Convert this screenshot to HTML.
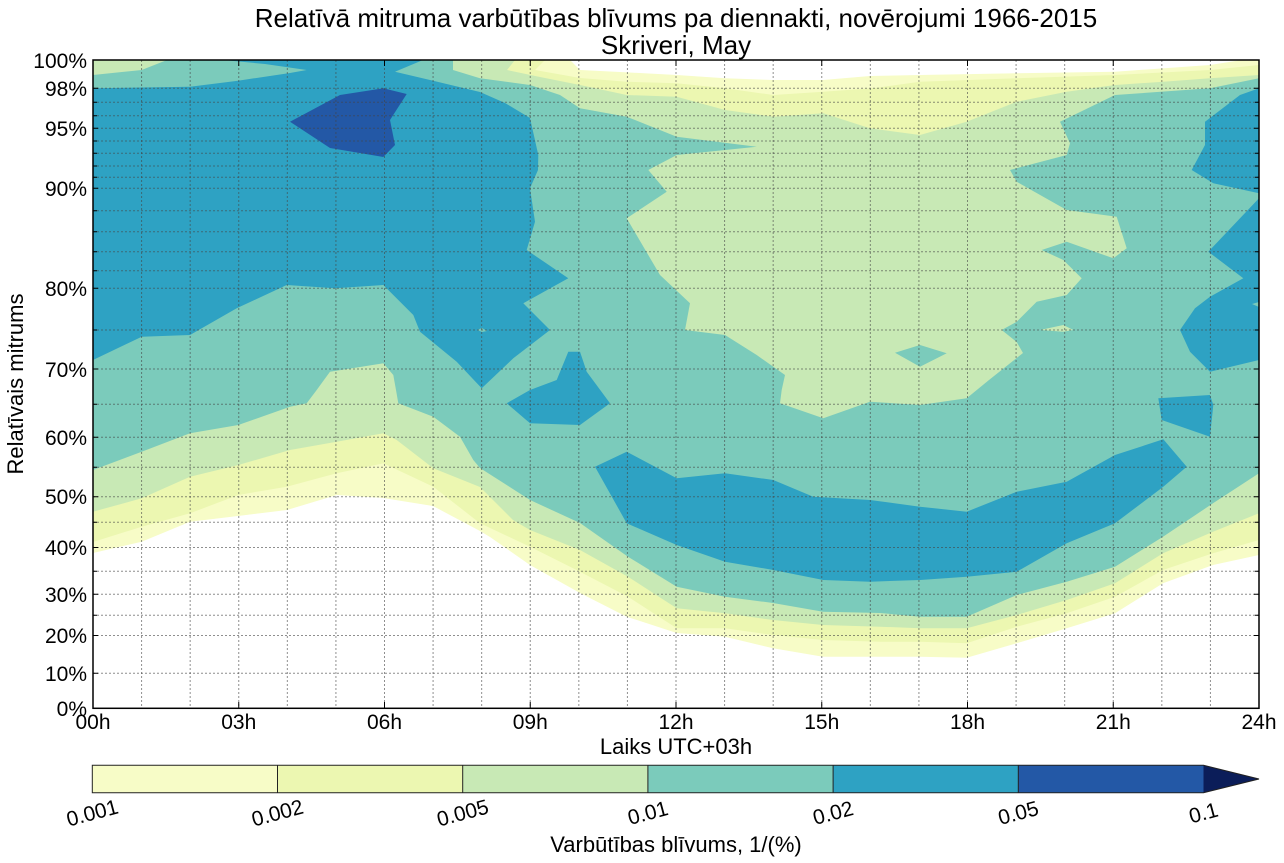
<!DOCTYPE html>
<html>
<head>
<meta charset="utf-8">
<style>
html,body{margin:0;padding:0;background:#fff;}
svg{display:block;}
text{font-family:"Liberation Sans", Arial, sans-serif;fill:#000;}
</style>
</head>
<body>
<svg width="1284" height="863" viewBox="0 0 1284 863" xmlns="http://www.w3.org/2000/svg">
<defs>
<clipPath id="pc"><rect x="93" y="60" width="1166" height="648.5"/></clipPath>
</defs>
<rect x="0" y="0" width="1284" height="863" fill="#fff"/>

<!-- Title -->
<text x="676" y="27" font-size="26" text-anchor="middle">Relatīvā mitruma varbūtības blīvums pa diennakti, novērojumi 1966-2015</text>
<text x="676" y="54" font-size="26" text-anchor="middle">Skriveri, May</text>

<g clip-path="url(#pc)">
<rect x="93" y="60" width="1166" height="649" fill="#fff"/>
<!-- L1 -->
<polygon fill="#f7fcc7" points="93,553 141.7,541.7 190,521.7 238,516 287,510 336.7,495 383,498 433,506 480,531 490,537 530,565 580,593 626.7,616.7 676.7,633 725,636.7 773,648.3 823,656.7 880,656.7 920,656.7 966.7,657.7 1016.7,643.3 1066.7,628.3 1115,613.3 1163,583.3 1213,565 1259,555 1259,60 93,60"/>
<!-- L2 -->
<polygon fill="#ecf7b1" points="93,542 141.7,526.7 190,513.3 238.3,495 286.7,486.7 336.7,473.3 383.3,463.3 433.3,486.7 480,523.3 530,546.7 580,571.7 628,596.7 676.7,628.3 725,628.3 773,635 823,640 880,641.7 920,641.7 966.7,643.3 1016.7,626.7 1066.7,613.3 1115,596.7 1163,570 1213,553.3 1259,540 1259,60 93,60"/>
<!-- L3 -->
<polygon fill="#c8e9b5" points="93,511.7 141.7,498.3 190,476.7 238.3,465 290,450 336.7,441.7 383.3,433.3 396.7,440 433.3,468.3 480,487 513,520 530,530 580,550 628,576.7 676.7,608.3 725,613.3 773,620 823,625 880,626.7 920,628.3 966.7,628.3 1016.7,615 1066.7,600 1115,583.3 1163,553.3 1213,531.7 1259,513.3 1259,60 93,60"/>
<!-- top yellow / lightest / white -->
<polygon fill="#ecf7b1" points="515,60 507,70 540,77 580,85 626.7,95 676.7,96.7 725,110 773.3,116.7 823.3,113.3 870,128.3 920,135 966.7,121.7 1016.7,101.7 1066.7,91.7 1115,85 1163.3,81.7 1210,78.3 1259,75 1259,60"/>
<polygon fill="#f7fcc7" points="545,60 535,70 580,78 626.7,81.7 676.7,83.3 725,88.3 773.3,95 823.3,91.7 875,88 920,81.7 1016.7,78.3 1115,75 1210,70 1259,65 1259,60"/>
<polygon fill="#fff" points="570,60 1242,60 1210,65 1115,71.7 1016.7,73.3 920,75 870,76 823,80 773,80 725,78.3 676.7,75 620,72 580,70"/>
<!-- L4 -->
<polygon fill="#7bcbbb" points="93,470 141.7,451.7 190,433.3 238.3,425 290,406.7 306.7,403.3 316.7,390 330,371.7 383.3,363.3 393.3,375 396,390 398.3,403.3 433.3,416.7 460,436.7 473.3,460 480,468 530,500 580,523 628,556.7 676.7,586.7 725,596.7 773,603 823,611.7 880,613 920,616.7 966.7,616.7 1016.7,595 1066.7,581.7 1115,566.7 1163,536.7 1213,503.3 1259,473.3 1259,78.3 1210,88.3 1115,95 1060,121.7 1070,143.3 1066.7,155 1010,170 1016.7,181.7 1066.7,210 1116.7,216.7 1126.7,248.3 1113.3,258.3 1066.7,241.7 1041.7,250 1063.3,260 1081.7,278.3 1066.7,295 1036.7,301.7 1016.7,321.7 1001.7,330 1016.7,342 1023,353 989,380 966.7,398.3 920,405 870,401.7 823.3,418.3 780,403.3 781.7,390 785,375 756.7,355 725,335 685,330 690,303.3 660,275 626.7,218.3 666.7,191.7 648.3,170 676.7,155 756.7,146.7 676.7,136.7 626.7,116.7 580,108.3 560,95 530,85 480,78.3 453,70 453,60 167,60 141.7,70 93,75"/>
<!-- islands -->
<polygon fill="#7bcbbb" points="895,352.7 920,345 946.7,353.3 920,366.7"/>
<polygon fill="#c8e9b5" points="1040,330 1063.3,325 1073.3,330 1063.3,331.7"/>
<!-- L5 -->
<polygon fill="#2ea2c3" points="93,88.3 190,86.7 238,80.7 290,73 306.7,70 265,64 223,60 423,60 395,71.7 430,80 480,92 505,103 530,118 538.3,155 538,170 530,188.3 535,221.7 526.7,250 568.3,278.3 523.3,303.3 550,330 513.3,358.3 481.7,388.3 456.7,361.7 420,331.7 413.3,315 383.3,285 335,288.3 286.7,285 236.7,308.3 190,335 141.7,336.7 93,360"/>
<polygon fill="#7bcbbb" points="477,330 482,328 487,331 482,332"/>
<polygon fill="#2ea2c3" points="506.7,403.3 530,390 556.7,380 568.3,351.7 580,351.7 586.7,371.7 610,403.3 580,425 530,423.3"/>
<polygon fill="#2ea2c3" points="595,466.7 626.7,451.7 676.7,478.3 725,473.3 773.3,480 813.3,496.7 870,500 920,506.7 966.7,511.7 1016.7,491.7 1066.7,481.7 1115,455 1163.3,439.3 1186.7,466.7 1163.3,486.7 1115,523.3 1066.7,543.3 1016.7,571.7 966.7,576.7 920,580 870,581.7 823.3,580 773.3,570 725,561.7 676.7,545 626.7,523.3"/>
<polygon fill="#2ea2c3" points="1158.3,398.3 1210,395 1213.3,405 1210,436.7 1161.7,420"/>
<polygon fill="#2ea2c3" points="1259,88.3 1240,95 1205,121.7 1205,145 1191.7,170 1213.3,183.3 1259,193.3"/>
<polygon fill="#2ea2c3" points="1259,198.3 1208.3,251.7 1243.3,278.3 1210,296.7 1195,308.3 1180,330 1190,351.7 1210,371.7 1259,360"/>
<polygon fill="#7bcbbb" points="1252,304 1259,302 1259,307"/>
<!-- L6 -->
<polygon fill="#2358a6" points="290,121.7 340,95 383.3,88.3 406.7,94 390,120 395,145 383.3,157 330,148"/>
</g>

<!-- grid -->
<g stroke="#444" stroke-opacity="0.6" stroke-width="1" stroke-dasharray="2,2" fill="none">
<path d="M141.58,60V708M190.17,60V708M238.75,60V708M287.33,60V708M335.92,60V708M384.5,60V708M433.08,60V708M481.67,60V708M530.25,60V708M578.83,60V708M627.42,60V708M676,60V708M724.58,60V708M773.17,60V708M821.75,60V708M870.33,60V708M918.92,60V708M967.5,60V708M1016.08,60V708M1064.67,60V708M1113.25,60V708M1161.83,60V708M1210.42,60V708"/>
<path d="M93,673.3H1259M93,635.5H1259M93,615.3H1259M93,594.3H1259M93,571.3H1259M93,547.5H1259M93,522.3H1259M93,496.7H1259M93,467.3H1259M93,437.3H1259M93,404.3H1259M93,369H1259M93,330H1259M93,288.3H1259M93,270.7H1259M93,251.7H1259M93,231.7H1259M93,210.7H1259M93,188.3H1259M93,177.3H1259M93,166H1259M93,153.3H1259M93,141H1259M93,128.3H1259M93,115.7H1259M93,102.3H1259M93,88.3H1259"/>
</g>

<!-- ticks -->
<g stroke="#000" stroke-width="1" fill="none">
<path d="M238.75,708v-6M384.5,708v-6M530.25,708v-6M676,708v-6M821.75,708v-6M967.5,708v-6M1113.25,708v-6M238.75,60v6M384.5,60v6M530.25,60v6M676,60v6M821.75,60v6M967.5,60v6M1113.25,60v6"/>
<path d="M93,673.3h5M93,635.5h5M93,615.3h4M93,594.3h5M93,571.3h4M93,547.5h5M93,522.3h4M93,496.7h5M93,467.3h4M93,437.3h5M93,404.3h4M93,369h5M93,330h4M93,288.3h5M93,270.7h4M93,251.7h4M93,231.7h4M93,210.7h4M93,188.3h5M93,177.3h4M93,166h4M93,153.3h4M93,141h4M93,128.3h5M93,115.7h4M93,102.3h4M93,88.3h5"/>
<path d="M1259,673.3h-5M1259,635.5h-5M1259,615.3h-4M1259,594.3h-5M1259,571.3h-4M1259,547.5h-5M1259,522.3h-4M1259,496.7h-5M1259,467.3h-4M1259,437.3h-5M1259,404.3h-4M1259,369h-5M1259,330h-4M1259,288.3h-5M1259,270.7h-4M1259,251.7h-4M1259,231.7h-4M1259,210.7h-4M1259,188.3h-5M1259,177.3h-4M1259,166h-4M1259,153.3h-4M1259,141h-4M1259,128.3h-5M1259,115.7h-4M1259,102.3h-4M1259,88.3h-5"/>
</g>
<rect x="93" y="60" width="1166" height="648.3" fill="none" stroke="#000" stroke-width="1.5"/>

<!-- y tick labels -->
<g font-size="21" text-anchor="end">
<text x="87" y="68">100%</text>
<text x="87" y="96">98%</text>
<text x="87" y="136">95%</text>
<text x="87" y="196">90%</text>
<text x="87" y="296">80%</text>
<text x="87" y="377">70%</text>
<text x="87" y="445">60%</text>
<text x="87" y="504">50%</text>
<text x="87" y="555">40%</text>
<text x="87" y="602">30%</text>
<text x="87" y="643">20%</text>
<text x="87" y="681">10%</text>
<text x="87" y="716">0%</text>
</g>
<!-- x tick labels -->
<g font-size="21" text-anchor="middle">
<text x="93" y="729">00h</text>
<text x="238.75" y="729">03h</text>
<text x="384.5" y="729">06h</text>
<text x="530.25" y="729">09h</text>
<text x="676" y="729">12h</text>
<text x="821.75" y="729">15h</text>
<text x="967.5" y="729">18h</text>
<text x="1113.25" y="729">21h</text>
<text x="1259" y="729">24h</text>
</g>
<text x="676" y="754" font-size="22" text-anchor="middle">Laiks UTC+03h</text>
<text transform="translate(23,384) rotate(-90)" font-size="22" text-anchor="middle">Relatīvais mitrums</text>

<!-- colorbar -->
<rect x="92.3" y="765.3" width="185.2" height="27.4" fill="#f7fcc7"/>
<rect x="277.5" y="765.3" width="185.2" height="27.4" fill="#ecf7b1"/>
<rect x="462.7" y="765.3" width="185.2" height="27.4" fill="#c8e9b5"/>
<rect x="647.9" y="765.3" width="185.2" height="27.4" fill="#7bcbbb"/>
<rect x="833.1" y="765.3" width="185.2" height="27.4" fill="#2ea2c3"/>
<rect x="1018.3" y="765.3" width="185.2" height="27.4" fill="#2358a6"/>
<polygon points="1203.5,765.3 1259,779 1203.5,792.7" fill="#0b1d59"/>
<g stroke="#222" stroke-width="1" fill="none">
<path d="M277.5,765.3V792.7M462.7,765.3V792.7M647.9,765.3V792.7M833.1,765.3V792.7M1018.3,765.3V792.7"/>
<path d="M92.3,765.3H1203.5L1259,779L1203.5,792.7H92.3Z"/>
</g>
<g font-size="21" text-anchor="middle">
<text transform="translate(92.3,813) rotate(-15)" y="7">0.001</text>
<text transform="translate(277.5,813) rotate(-15)" y="7">0.002</text>
<text transform="translate(462.7,813) rotate(-15)" y="7">0.005</text>
<text transform="translate(647.9,813) rotate(-15)" y="7">0.01</text>
<text transform="translate(833.1,813) rotate(-15)" y="7">0.02</text>
<text transform="translate(1018.3,813) rotate(-15)" y="7">0.05</text>
<text transform="translate(1203.5,813) rotate(-15)" y="7">0.1</text>
</g>
<text x="676" y="852" font-size="22" text-anchor="middle">Varbūtības blīvums, 1/(%)</text>
</svg>
</body>
</html>
